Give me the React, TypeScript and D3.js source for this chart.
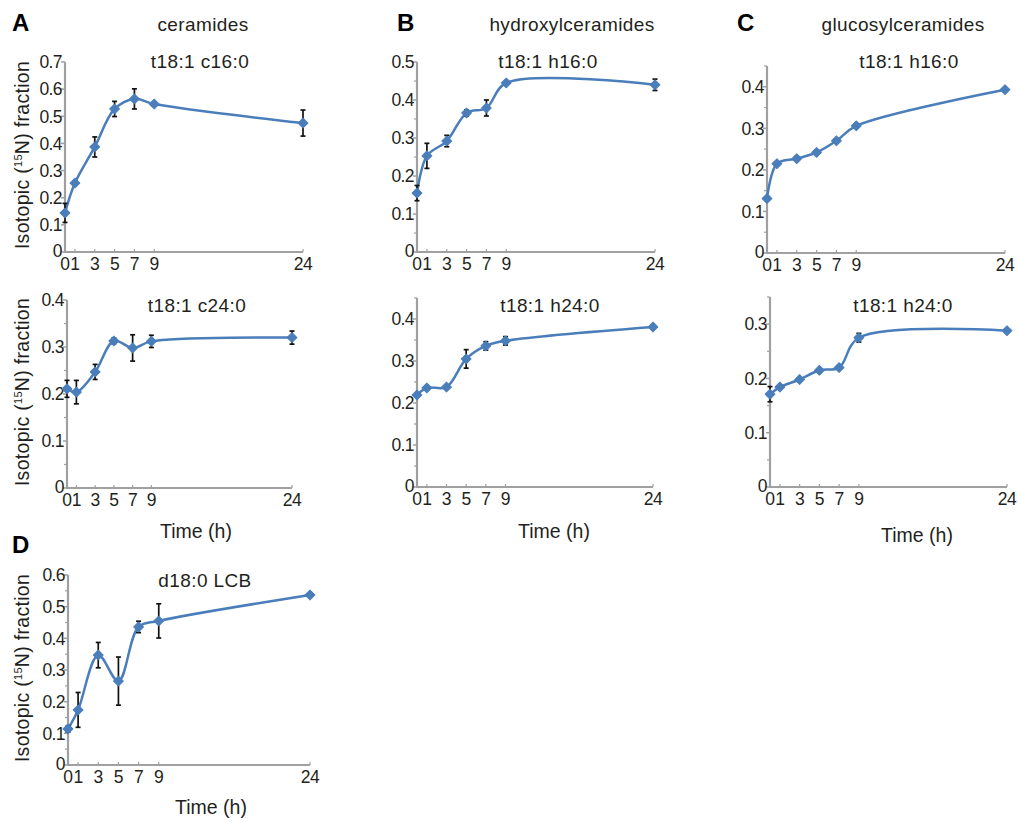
import React from 'react';
import * as d3 from 'd3';

// ---------- data ----------
const times = [0, 1, 3, 5, 7, 9, 24];
const xTickLabels = ['0', '1', '3', '5', '7', '9', '24'];

const cerC16 = [0.144, 0.254, 0.387, 0.527, 0.564, 0.545, 0.475];
const cerC16Err = [0.035, 0.008, 0.037, 0.028, 0.037, 0.006, 0.048];
const cerC24 = [0.211, 0.204, 0.247, 0.313, 0.298, 0.312, 0.32];
const cerC24Err = [0.018, 0.025, 0.016, 0.006, 0.028, 0.013, 0.014];
const hydH16 = [0.155, 0.253, 0.292, 0.366, 0.379, 0.445, 0.44];
const hydH16Err = [0.02, 0.033, 0.015, 0.008, 0.021, 0.004, 0.015];
const hydH24 = [0.219, 0.236, 0.238, 0.305, 0.336, 0.348, 0.381];
const hydH24Err = [0.004, 0.004, 0.004, 0.022, 0.01, 0.01, 0.004];
const gluH16 = [0.131, 0.215, 0.227, 0.242, 0.27, 0.306, 0.393];
const gluH16Err = [0.004, 0.004, 0.004, 0.004, 0.004, 0.004, 0.004];
const gluH24 = [0.171, 0.184, 0.198, 0.215, 0.22, 0.275, 0.288];
const gluH24Err = [0.014, 0.003, 0.003, 0.003, 0.003, 0.008, 0.003];
const lcbD18 = [0.114, 0.174, 0.347, 0.265, 0.436, 0.455, 0.537];
const lcbD18Err = [0.01, 0.055, 0.04, 0.076, 0.018, 0.054, 0.006];

const yTicks07 = [0, 0.1, 0.2, 0.3, 0.4, 0.5, 0.6, 0.7];
const yTicks06 = [0, 0.1, 0.2, 0.3, 0.4, 0.5, 0.6];
const yTicks05 = [0, 0.1, 0.2, 0.3, 0.4, 0.5];
const yTicks04 = [0, 0.1, 0.2, 0.3, 0.4];
const yTicks03 = [0, 0.1, 0.2, 0.3];

const groupTitles = ['ceramides', 'hydroxylceramides', 'glucosylceramides'];
const panelLetters = ['A', 'B', 'C', 'D'];

// ---------- layout ----------
const BLUE = '#4a7ebb';
const AXIS = '#a0a0a0';
const TEXT = '#231f20';
const FONT = '"Liberation Sans", Arial, Helvetica, sans-serif';

interface Panel {
  values: number[];
  errors: number[];
  title: string;
  titleX: number;
  titleY: number;
  yMax: number;
  yTicks: number[];
  minor: boolean;
  x0: number;
  x1: number;
  yBottom: number;
  yTop: number;
  yLabel: boolean;
  xLabel?: { x: number; y: number };
}

const panels: Panel[] = [
  { values: cerC16, errors: cerC16Err, title: 't18:1 c16:0', titleX: 200, titleY: 68, yMax: 0.7, yTicks: yTicks07, minor: false, x0: 65, x1: 303, yBottom: 252, yTop: 62, yLabel: true },
  { values: cerC24, errors: cerC24Err, title: 't18:1 c24:0', titleX: 197, titleY: 312, yMax: 0.4, yTicks: yTicks04, minor: true, x0: 67, x1: 292, yBottom: 488, yTop: 300, yLabel: true, xLabel: { x: 196, y: 538 } },
  { values: hydH16, errors: hydH16Err, title: 't18:1 h16:0', titleX: 548, titleY: 68, yMax: 0.5, yTicks: yTicks05, minor: true, x0: 417, x1: 655, yBottom: 252, yTop: 62, yLabel: false },
  { values: hydH24, errors: hydH24Err, title: 't18:1 h24:0', titleX: 550, titleY: 312, yMax: 0.45, yTicks: yTicks04, minor: true, x0: 417, x1: 653, yBottom: 487, yTop: 298, yLabel: false, xLabel: { x: 554, y: 538 } },
  { values: gluH16, errors: gluH16Err, title: 't18:1 h16:0', titleX: 909, titleY: 68, yMax: 0.45, yTicks: yTicks04, minor: true, x0: 767, x1: 1005, yBottom: 253, yTop: 66, yLabel: false },
  { values: gluH24, errors: gluH24Err, title: 't18:1 h24:0', titleX: 903, titleY: 312, yMax: 0.35, yTicks: yTicks03, minor: true, x0: 770, x1: 1007, yBottom: 487, yTop: 297, yLabel: false, xLabel: { x: 917, y: 542 } },
  { values: lcbD18, errors: lcbD18Err, title: 'd18:0 LCB', titleX: 205, titleY: 587, yMax: 0.6, yTicks: yTicks06, minor: true, x0: 68, x1: 310, yBottom: 765, yTop: 575, yLabel: true, xLabel: { x: 211, y: 814 } },
];

const fmt = (v: number) => (v === 0 ? '0' : d3.format('.1f')(v));

function PanelView({ p }: { p: Panel }) {
  const x = d3.scaleLinear().domain([0, 24]).range([p.x0, p.x1]);
  const y = d3.scaleLinear().domain([0, p.yMax]).range([p.yBottom, p.yTop]);
  const pts = times.map((t, i) => [t, p.values[i]] as [number, number]);
  const line = d3
    .line<[number, number]>()
    .x((d) => x(d[0]))
    .y((d) => y(d[1]))
    .curve(d3.curveCatmullRom.alpha(0.5));
  const marker = d3.symbol(d3.symbolSquare, 48)() as string;
  const minorTicks = p.minor ? d3.range(0.05, p.yMax + 1e-9, 0.1) : [];
  const midY = (p.yTop + p.yBottom) / 2 - 2;
  return (
    <g>
      {/* axes */}
      <line x1={p.x0} x2={p.x0} y1={p.yTop} y2={p.yBottom} stroke={AXIS} strokeWidth={2.2} />
      <line x1={p.x0 - 1} x2={p.x1} y1={p.yBottom} y2={p.yBottom} stroke={AXIS} strokeWidth={2.2} />
      {p.yTicks.map((t) => (
        <line key={'mt' + t} x1={p.x0 - 4} x2={p.x0} y1={y(t)} y2={y(t)} stroke={AXIS} strokeWidth={1.5} />
      ))}
      {minorTicks.map((t) => (
        <line key={'mn' + t} x1={p.x0 - 3} x2={p.x0} y1={y(t)} y2={y(t)} stroke={AXIS} strokeWidth={1.2} />
      ))}
      {times.map((t) => (
        <line key={'xt' + t} x1={x(t)} x2={x(t)} y1={p.yBottom} y2={p.yBottom - 3} stroke={AXIS} strokeWidth={1.2} />
      ))}
      {p.yTicks.map((t) => (
        <text key={'yl' + t} x={p.x0 - 3} y={t === 0 ? y(t) - 1 : y(t)} dy="0.36em" textAnchor="end" fontSize={17.5} letterSpacing={-0.6} fill={TEXT}>
          {fmt(t)}
        </text>
      ))}
      {times.map((t, i) => (
        <text key={'xl' + t} x={x(t)} y={p.yBottom + 18} textAnchor="middle" fontSize={17.5} letterSpacing={-0.4} fill={TEXT}>
          {xTickLabels[i]}
        </text>
      ))}
      {/* title */}
      <text x={p.titleX} y={p.titleY} textAnchor="middle" fontSize={19} letterSpacing={0.4} fill={TEXT}>
        {p.title}
      </text>
      {p.yLabel && (
        <text transform={`translate(29,${midY}) rotate(-90)`} textAnchor="middle" fontSize={19.5} letterSpacing={0.3} fill={TEXT}>
          Isotopic (<tspan fontSize={11} dy={-7}>15</tspan>
          <tspan dy={7}>N) fraction</tspan>
        </text>
      )}
      {p.xLabel && (
        <text x={p.xLabel.x} y={p.xLabel.y} textAnchor="middle" fontSize={19.5} fill={TEXT}>
          Time (h)
        </text>
      )}
      {/* line */}
      <path d={line(pts) as string} fill="none" stroke={BLUE} strokeWidth={2.5} />
      {/* error bars */}
      {times.map((t, i) => {
        const e = p.errors[i];
        const cx = x(t);
        const yt = y(p.values[i] + e);
        const yb = y(p.values[i] - e);
        return (
          <g key={'eb' + t} stroke="#111" strokeWidth={1.7}>
            <line x1={cx} x2={cx} y1={yt} y2={yb} />
            <line x1={cx - 2.5} x2={cx + 2.5} y1={yt} y2={yt} />
            <line x1={cx - 2.5} x2={cx + 2.5} y1={yb} y2={yb} />
          </g>
        );
      })}
      {/* markers */}
      {times.map((t, i) => (
        <path
          key={'mk' + t}
          d={marker}
          transform={`translate(${x(t)},${y(p.values[i])}) rotate(45)`}
          fill={BLUE}
          stroke={BLUE}
          strokeWidth={1}
          strokeLinejoin="round"
        />
      ))}
    </g>
  );
}

export default function App() {
  return (
    <svg
      width={1019}
      height={822}
      style={{ position: 'absolute', left: 0, top: 0, display: 'block', background: '#fff' }}
      fontFamily={FONT}
    >
      <rect width={1019} height={822} fill="#fff" />
      {/* panel letters */}
      <text x={12} y={31} fontSize={24} fontWeight="bold" fill="#000">{panelLetters[0]}</text>
      <text x={397} y={31} fontSize={24} fontWeight="bold" fill="#000">{panelLetters[1]}</text>
      <text x={737} y={31} fontSize={24} fontWeight="bold" fill="#000">{panelLetters[2]}</text>
      <text x={12} y={553} fontSize={24} fontWeight="bold" fill="#000">{panelLetters[3]}</text>
      {/* group titles */}
      <text x={203} y={31} textAnchor="middle" fontSize={19} letterSpacing={0.4} fill={TEXT}>{groupTitles[0]}</text>
      <text x={572} y={31} textAnchor="middle" fontSize={19} letterSpacing={0.4} fill={TEXT}>{groupTitles[1]}</text>
      <text x={903} y={31} textAnchor="middle" fontSize={19} letterSpacing={0.4} fill={TEXT}>{groupTitles[2]}</text>
      {panels.map((p, i) => (
        <PanelView key={i} p={p} />
      ))}
    </svg>
  );
}
